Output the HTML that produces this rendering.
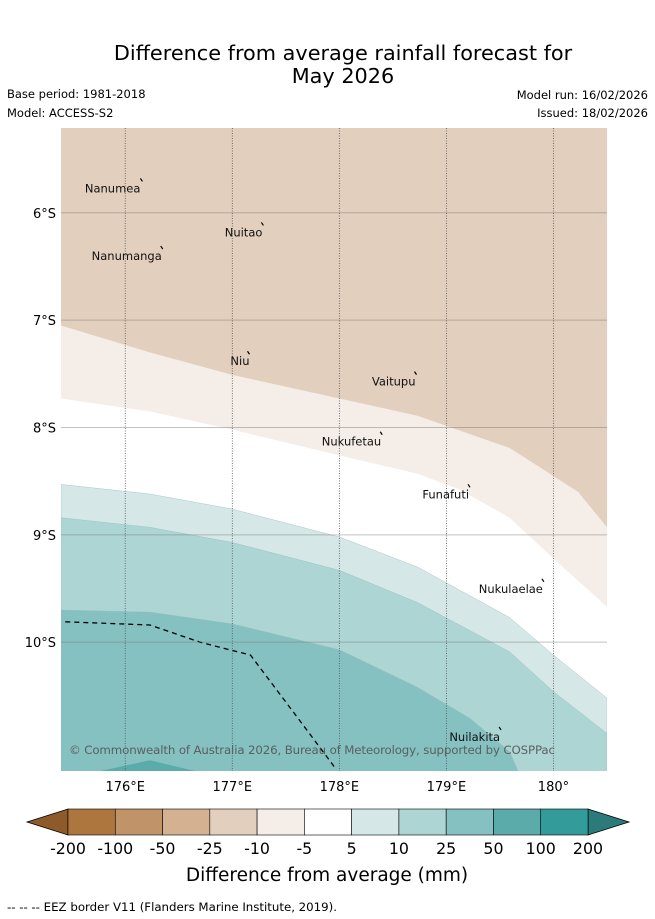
<!DOCTYPE html>
<html><head><meta charset="utf-8"><style>
body{margin:0;background:#fff;width:655px;height:919px;overflow:hidden;font-family:"DejaVu Sans","Liberation Sans",sans-serif;}
svg{display:block}
</style></head><body>
<svg id="c" width="655" height="919" viewBox="0 0 655 919" xmlns="http://www.w3.org/2000/svg">
<text x="343" y="60" font-size="20.8" text-anchor="middle" fill="#000">Difference from average rainfall forecast for</text>
<text x="343" y="83" font-size="20.8" text-anchor="middle" fill="#000">May 2026</text>
<text x="7" y="98" font-size="11.5">Base period: 1981-2018</text>
<text x="7" y="117" font-size="11.5">Model: ACCESS-S2</text>
<text x="648" y="99" font-size="11.5" text-anchor="end">Model run: 16/02/2026</text>
<text x="648" y="117" font-size="11.5" text-anchor="end">Issued: 18/02/2026</text>
<g id="map"></g>
<g id="cbar"></g>
<text x="327" y="881" font-size="18.5" text-anchor="middle">Difference from average (mm)</text>
<text x="7" y="911" font-size="11.8" textLength="330">-- -- -- EEZ border V11 (Flanders Marine Institute, 2019).</text>
</svg>
<script>
// map extent
const lonMin=175.40, lonMax=180.50, latMin=5.21, latMax=11.20; // lat in degrees South
const X0=61,X1=607,Y0=128,Y1=771;
function xs(lon){return X0+(lon-lonMin)/(lonMax-lonMin)*(X1-X0);}
function ys(lat){return Y0+(lat-latMin)/(latMax-latMin)*(Y1-Y0);}
// contour boundaries (lon, lat S)
const b1Lon=[175.40,176.23,177.00,178.00,178.73,179.59,180.23,180.50];
const b1Lat=[7.05,7.30,7.51,7.73,7.89,8.19,8.60,8.93];
const b2Lon=[175.40,176.23,177.00,178.00,178.73,179.13,179.59,180.01,180.50];
const b2Lat=[7.73,7.85,8.02,8.26,8.43,8.58,8.84,9.23,9.67];
const b3Lon=[175.40,176.23,177.00,178.00,178.73,179.59,180.00,180.50];
const b3Lat=[8.53,8.62,8.76,9.02,9.30,9.77,10.12,10.52];
const b4Lon=[175.40,176.23,177.00,178.00,178.73,179.59,180.00,180.50];
const b4Lat=[8.84,8.93,9.07,9.33,9.63,10.09,10.46,10.85];
const b5Lon=[175.40,176.23,177.00,178.00,178.73,179.22,179.59,179.67];
const b5Lat=[9.70,9.72,9.83,10.07,10.42,10.71,11.02,11.20];
const b6Lon=[175.77,176.23,176.65];
const b6Lat=[11.20,11.10,11.20];
const eezLon=[175.44,176.23,176.70,177.17,177.63,177.96];
const eezLat=[9.81,9.84,10.00,10.12,10.73,11.17];
const lonTicks=[176,177,178,179,180];
const lonLabels=["176°E","177°E","178°E","179°E","180°"];
const latTicks=[6,7,8,9,10];
const latLabels=["6°S","7°S","8°S","9°S","10°S"];
const islandNames=["Nanumea","Nuitao","Nanumanga","Niu","Vaitupu","Nukufetau","Funafuti","Nukulaelae","Nuilakita"];
const islandLon=[176.17,177.30,176.36,177.17,178.73,178.41,179.23,179.92,179.52];
const islandLat=[5.81,6.22,6.44,7.42,7.61,8.17,8.66,9.54,10.92];
const labelDx=[-3,-2,-2,-1,-2,-2,-2,-2,-2];

const NS="http://www.w3.org/2000/svg";
const map=document.getElementById('map');
function mk(tag,attrs,parent){const e=document.createElementNS(NS,tag);for(const k in attrs)e.setAttribute(k,attrs[k]);(parent||map).appendChild(e);return e;}
function pts(lons,lats){return lons.map((l,i)=>xs(l).toFixed(1)+','+ys(lats[i]).toFixed(1));}
let cp=mk('clipPath',{id:'clip'});mk('rect',{x:X0,y:Y0,width:X1-X0,height:Y1-Y0},cp);
const g=mk('g',{'clip-path':'url(#clip)'});
let r=mk('rect',{x:X0,y:Y0,width:X1-X0,height:Y1-Y0,fill:'#ffffff'},g);


function above(lons,lats,fill,name){
  const p=[X0+','+Y0].concat(pts(lons,lats)).concat([X1+','+Y0]);
  const e=mk('polygon',{points:p.join(' '),fill:fill},g);
  
  
}
function below(lons,lats,fill,name){
  const p=pts(lons,lats).concat([X1+','+(Y1+5),X0+','+(Y1+5)]);
  const e=mk('polygon',{points:p.join(' '),fill:fill,stroke:'#9cbcbc','stroke-width':0.4},g);
  
  
}
above(b2Lon,b2Lat,'#f5ede8','band-minus10-to-minus5');
above(b1Lon,b1Lat,'#e2cfbd','band-minus25-to-minus10');
below(b3Lon,b3Lat,'#d5e8e7','band-5-to-10');
below(b4Lon,b4Lat,'#acd5d4','band-10-to-25');
below(b5Lon,b5Lat,'#84c1c0','band-25-to-50');
let bump=mk('polygon',{points:pts(b6Lon,b6Lat).join(' '),fill:'#5aabaa'},g);


// grid
latTicks.forEach((t,i)=>{
  const y=ys(t);
  let l=mk('line',{x1:X0,x2:X1,y1:y,y2:y,stroke:'#777',"stroke-opacity":0.45,'stroke-width':1});
  
  
  let tx=mk('text',{x:56,y:y+5,'font-size':13,'text-anchor':'end',fill:'#000'});
  tx.textContent=latLabels[i];
  
  
});
lonTicks.forEach((t,i)=>{
  const x=xs(t);
  let l=mk('line',{x1:x,x2:x,y1:Y0,y2:Y1,stroke:'#555','stroke-width':0.8,'stroke-dasharray':'1,1.5'});
  
  
  let tx=mk('text',{x:x,y:791,'font-size':13,'text-anchor':'middle',fill:'#000'});
  tx.textContent=lonLabels[i];
  
  
});
// EEZ
let eez=mk('polyline',{points:pts(eezLon,eezLat).join(' '),fill:'none',stroke:'#000','stroke-width':1.3,'stroke-dasharray':'5,4'},g);


// islands
islandNames.forEach((n,i)=>{
  const x=xs(islandLon[i]),y=ys(islandLat[i]);
  let m=mk('line',{x1:x-3,y1:y-14,x2:x-1,y2:y-11,stroke:'#000','stroke-width':1.2});
  
  
  let t=mk('text',{x:x+labelDx[i],y:y,'font-size':11.5,'text-anchor':'end',fill:'#111'});
  t.textContent=n;
  
  
});
let cpr=mk('text',{x:69,y:754,'font-size':11.8,fill:'#555','fill-opacity':0.9,textLength:486});
cpr.textContent='© Commonwealth of Australia 2026, Bureau of Meteorology, supported by COSPPac';


// colorbar
const cbLabels=["-200","-100","-50","-25","-10","-5","5","10","25","50","100","200"];
const cbColors=["#ad763f","#c09468","#d4b291","#e2cfbd","#f5ede8","#ffffff","#d5e8e7","#acd5d4","#84c1c0","#5aabaa","#339c9b"];
const cb=document.getElementById('cbar');
const cx0=68,cx1=588,cy0=809,cy1=835,w=(cx1-cx0)/cbColors.length;
let la=mk('polygon',{points:`27,822 ${cx0},${cy0} ${cx0},${cy1}`,fill:'#8f5a2a',stroke:'#000','stroke-width':0.8},cb);


let ra=mk('polygon',{points:`629,822 ${cx1},${cy0} ${cx1},${cy1}`,fill:'#2d7a7a',stroke:'#000','stroke-width':0.8},cb);


cbColors.forEach((c,i)=>{
  let s=mk('rect',{x:cx0+i*w,y:cy0,width:w,height:cy1-cy0,fill:c,stroke:'#000','stroke-width':0.6},cb);
  
  
});
cbLabels.forEach((l,i)=>{
  let t=mk('text',{x:cx0+i*w,y:854,'font-size':15.8,'text-anchor':'middle',fill:'#000'},cb);
  t.textContent=l;
  
  
});
</script>
</body></html>
